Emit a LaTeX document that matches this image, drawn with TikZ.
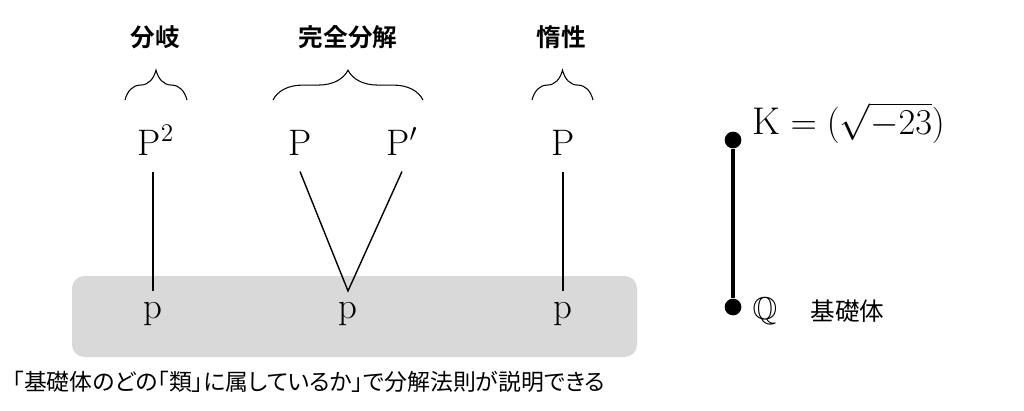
\documentclass[tikz,border=0pt]{standalone}
\usepackage{amsmath,amssymb}
\usepackage{fontspec}
\newfontfamily\cjk[BoldFont={Noto Sans CJK JP Bold}]{Noto Sans CJK JP}
\newfontfamily\cjkp[RawFeature=+palt]{Noto Sans CJK JP}
\usetikzlibrary{decorations.pathreplacing}
\definecolor{boxgray}{RGB}{217,217,217}
\tikzset{
  upper/.style={font=\fontsize{21}{25}\selectfont, anchor=base, text height=15pt, text depth=0pt, inner xsep=0pt, inner ysep=9pt},
  lower/.style={font=\fontsize{21}{25}\selectfont, anchor=base, text height=9pt, text depth=5pt, inner xsep=0pt, inner ysep=6pt},
  kind/.style={font=\cjk\bfseries\fontsize{14}{16}\selectfont},
  curly/.style={decorate, decoration={brace, amplitude=17pt}, line width=0.6pt},
  dot/.style={circle, fill=black, inner sep=0pt, minimum size=9.5pt}
}
\begin{document}
\begin{tikzpicture}[x=0.02cm, y=-0.02cm, line width=0.8pt]
    \useasboundingbox (0,0) rectangle (1024,410);

    % base field primes
    \fill[boxgray, rounded corners=7pt] (72,276) rectangle (637,357);
    \node[lower] (p1) at (153,318) {$\mathrm{p}$};
    \node[lower] (p2) at (348,318) {$\mathrm{p}$};
    \node[lower] (p3) at (563,318) {$\mathrm{p}$};

    % ramified
    \node[upper] (P1) at (156,155) {$\mathrm{P}^2$};
    \draw (p1.north) -- (P1.south -| p1.north);
    \draw[curly] (125,100) -- (187,100);
    \node[kind] (ram) at (155,37) {分岐};

    % split
    \node[upper] (P2) at (300,155) {$\mathrm{P}$};
    \node[upper] (P3) at (402,155) {$\mathrm{P}'$};
    \draw (P2.south) -- (p2.north) -- (P3.south);
    \draw[curly] (273,100) -- (423,100);
    \node[kind] (spl) at (348,37) {完全分解};

    % inert
    \node[upper] (P4) at (563,155) {$\mathrm{P}$};
    \draw (P4.south) -- (p3.north);
    \draw[curly] (532,100) -- (593,100);
    \node[kind] (ine) at (561,37) {惰性};

    % tower of fields
    \node[dot] (K) at (733,140) {};
    \node[dot] (Q) at (733,307) {};
    \draw[line width=1.8pt] (K) -- (Q);
    \node[anchor=base west, inner sep=0pt, font=\fontsize{22}{26}\selectfont] (Klab) at (752,134) {$\mathrm{K}=(\sqrt{-23})$};
    \node[anchor=base west, inner sep=0pt, font=\fontsize{18}{22}\selectfont] (Qlab) at (752,319) {$\mathbb{Q}$};
    \node[anchor=base west, inner sep=0pt, font=\cjk\fontsize{14}{16}\selectfont] (base) at (810,320) {基礎体};

    % caption
    \node[anchor=west, inner sep=0pt, font=\cjkp\fontsize{13}{15}\selectfont] (note) at (12,382) {「基礎体のどの「類」に属しているか」で分解法則が説明できる};
\end{tikzpicture}
\end{document}
